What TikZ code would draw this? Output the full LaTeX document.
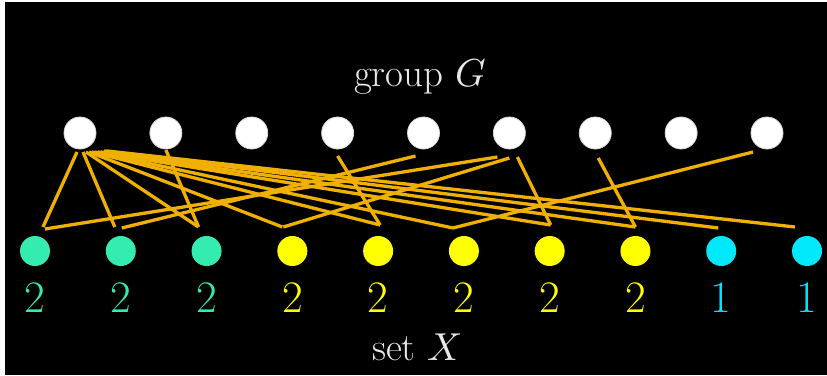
\documentclass[tikz,border=0pt]{standalone}
\usepackage{unicode-math}
\setmathfont{Latin Modern Math}
\usetikzlibrary{calc}
\definecolor{tealc}{RGB}{52,236,176}
\definecolor{yelc}{RGB}{255,255,0}
\definecolor{cyanc}{RGB}{0,232,250}
\definecolor{goldc}{RGB}{240,176,0}
\definecolor{txtc}{RGB}{232,232,232}
\tikzset{
  gnode/.style={circle,fill=white,draw=white!85!black,line width=0.8pt,minimum size=32pt,inner sep=0pt},
  xnode/.style={circle,minimum size=30pt,inner sep=0pt},
  edge/.style={draw=goldc,line width=3.3pt},
  lbl/.style={font=\fontsize{45}{50}\selectfont,inner sep=0pt},
  captext/.style={text=txtc,font=\fontsize{39}{46}\selectfont,inner sep=0pt}
}
\begin{document}
\begin{tikzpicture}[x=1pt,y=-1pt]
\fill[white] (0,0) rectangle (827,375);
\fill[black] (5,2) rectangle (827,375);
\useasboundingbox (0,0) rectangle (827,375);
% group elements
\foreach \i in {1,...,9}{
  \node[gnode] (T\i) at ({80+85.875*(\i-1)},133) {};
}
% set elements
\foreach \i/\c in {1/tealc,2/tealc,3/tealc,4/yelc,5/yelc,6/yelc,7/yelc,8/yelc,9/cyanc,10/cyanc}{
  \node[xnode,fill=\c] (B\i) at ({35+85.78*(\i-1)},251) {};
}
% labels
\foreach \i/\c/\n in {1/tealc/2,2/tealc/2,3/tealc/2,4/yelc/2,5/yelc/2,6/yelc/2,7/yelc/2,8/yelc/2,9/cyanc/1,10/cyanc/1}{
  \node[lbl,text=\c] (L\i) at ($(B\i)+(0,47)$) {\n};
}
\node[captext,anchor=base] (title) at (420,86) {group $G$};
\node[captext,anchor=base] (setx) at (417,360) {set $X$};
% connectors from the identity
\draw[edge] ([shift={(-3,19)}]T1.center) -- ([shift={(8,-24)}]B1.center);
\draw[edge] ([shift={(3,19)}]T1.center) -- ([shift={(-6,-24)}]B2.center);
\draw[edge] ([shift={(6,19)}]T1.center) -- ([shift={(-8,-24)}]B3.center);
\draw[edge] ([shift={(9,19)}]T1.center) -- ([shift={(-10,-24)}]B4.center);
\draw[edge] ([shift={(12,19)}]T1.center) -- ([shift={(2,-26)}]B5.center);
\draw[edge] ([shift={(15,19)}]T1.center) -- ([shift={(-11,-23)}]B6.center);
\draw[edge] ([shift={(18,19)}]T1.center) -- ([shift={(1,-26)}]B7.center);
\draw[edge] ([shift={(21,19)}]T1.center) -- ([shift={(0,-24)}]B8.center);
\draw[edge] ([shift={(24,18)}]T1.center) -- ([shift={(-3,-23)}]B9.center);
\draw[edge] ([shift={(27,18)}]T1.center) -- ([shift={(-12,-24)}]B10.center);
% other connectors
\draw[edge] ([shift={(0,17)}]T2.center) -- ([shift={(-8,-24)}]B3.center);
\draw[edge] ([shift={(0,23)}]T4.center) -- ([shift={(2,-26)}]B5.center);
\draw[edge] ([shift={(-8,23)}]T5.center) -- ([shift={(1,-23)}]B2.center);
\draw[edge] ([shift={(-12,24)}]T6.center) -- ([shift={(10,-22)}]B1.center);
\draw[edge] ([shift={(0,25)}]T6.center) -- ([shift={(-9,-24)}]B4.center);
\draw[edge] ([shift={(8,24)}]T6.center) -- ([shift={(1,-26)}]B7.center);
\draw[edge] ([shift={(3,25)}]T7.center) -- ([shift={(0,-24)}]B8.center);
\draw[edge] ([shift={(-14,19)}]T9.center) -- ([shift={(-11,-23)}]B6.center);
\end{tikzpicture}
\end{document}
